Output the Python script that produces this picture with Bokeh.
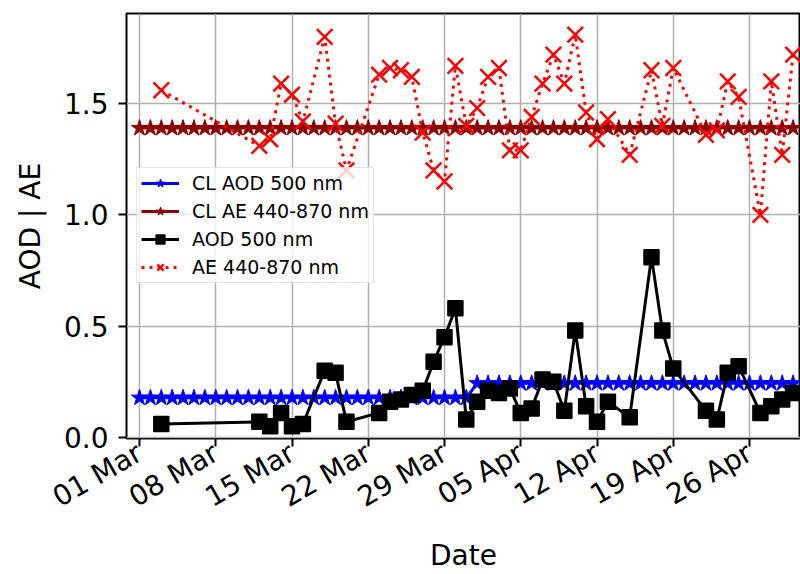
import datetime as dt
import calendar

from bokeh.plotting import figure
from bokeh.models import (ColumnDataSource, Range1d, FixedTicker, DatetimeTickFormatter,
                          PrintfTickFormatter, Legend, LegendItem)
from bokeh.embed import file_html
from bokeh.resources import INLINE

YEAR = 2023

# Observation days (month-day) and values
obs_dates = ["03-03", "03-12", "03-13", "03-14", "03-15", "03-16", "03-18", "03-19", "03-20",
             "03-23", "03-24", "03-25", "03-26", "03-27", "03-28", "03-29", "03-30", "03-31",
             "04-01", "04-02", "04-03", "04-04", "04-05", "04-06", "04-07", "04-08", "04-09",
             "04-10", "04-11", "04-12", "04-13", "04-15", "04-17", "04-18", "04-19", "04-22",
             "04-23", "04-24", "04-25", "04-27", "04-28", "04-29", "04-30"]

aod_500 = [0.06, 0.07, 0.05, 0.11, 0.05, 0.06, 0.30, 0.29, 0.07,
           0.11, 0.16, 0.17, 0.19, 0.21, 0.34, 0.45, 0.58, 0.08,
           0.16, 0.21, 0.20, 0.22, 0.11, 0.13, 0.26, 0.25, 0.12,
           0.48, 0.14, 0.07, 0.16, 0.09, 0.81, 0.48, 0.31, 0.12,
           0.08, 0.29, 0.32, 0.11, 0.14, 0.17, 0.20]

ae_440_870 = [1.56, 1.31, 1.34, 1.59, 1.54, 1.42, 1.80, 1.41, 1.20,
              1.63, 1.66, 1.65, 1.62, 1.37, 1.20, 1.15, 1.67, 1.40,
              1.48, 1.62, 1.66, 1.29, 1.29, 1.44, 1.59, 1.72, 1.59,
              1.81, 1.46, 1.34, 1.43, 1.27, 1.65, 1.40, 1.66, 1.36,
              1.38, 1.60, 1.53, 1.00, 1.60, 1.27, 1.72]

# Monthly climatology
cl_months = [3, 4]
cl_aod_500 = [0.178, 0.243]
cl_ae_440_870 = [1.39, 1.39]

# Tick labels
x_tick_dates = ["03-01", "03-08", "03-15", "03-22", "03-29", "04-05", "04-12", "04-19", "04-26"]
y_ticks = [0.0, 0.5, 1.0, 1.5]


def to_dt(md):
    m, d = md.split("-")
    return dt.datetime(YEAR, int(m), int(d))


obs_dt = [to_dt(s) for s in obs_dates]

cl_dt, cl_aod_daily, cl_ae_daily = [], [], []
for m, va, ve in zip(cl_months, cl_aod_500, cl_ae_440_870):
    for d in range(1, calendar.monthrange(YEAR, m)[1] + 1):
        cl_dt.append(dt.datetime(YEAR, m, d))
        cl_aod_daily.append(va)
        cl_ae_daily.append(ve)

EPOCH = dt.datetime(1970, 1, 1)


def ms(d):
    return (d - EPOCH).total_seconds() * 1000.0


start = to_dt("03-01")
x0 = start - dt.timedelta(days=1.193)
x1 = start + dt.timedelta(days=60.68)

p = figure(width=800, height=574, x_axis_type="datetime", output_backend="svg",
           toolbar_location=None, x_range=Range1d(x0, x1), y_range=Range1d(-0.005, 1.905),
           min_border_left=126, min_border_right=0, min_border_top=13, min_border_bottom=136)

p.background_fill_color = "white"
p.border_fill_color = "white"
p.outline_line_color = "black"
p.outline_line_width = 2

FONT = "DejaVu Sans"

src_cl = ColumnDataSource(dict(date=cl_dt, aod=cl_aod_daily, ae=cl_ae_daily))
src_obs = ColumnDataSource(dict(date=obs_dt, aod=aod_500, ae=ae_440_870))

l1 = p.line("date", "aod", source=src_cl, line_color="blue", line_width=3)
s1 = p.scatter("date", "aod", source=src_cl, marker="star", size=17, color="blue")
l2 = p.line("date", "ae", source=src_cl, line_color="darkred", line_width=3)
s2 = p.scatter("date", "ae", source=src_cl, marker="star", size=17, color="darkred")
l3 = p.line("date", "aod", source=src_obs, line_color="black", line_width=3)
s3 = p.scatter("date", "aod", source=src_obs, marker="square", size=15, color="black", line_width=1.5)
l4 = p.line("date", "ae", source=src_obs, line_color="red", line_width=3, line_dash="3 5")
s4 = p.scatter("date", "ae", source=src_obs, marker="x", size=22, line_color="red", line_width=2.5)

# Axes
p.xaxis.ticker = FixedTicker(ticks=[ms(to_dt(s)) for s in x_tick_dates])
fmt = "%d %b"
p.xaxis.formatter = DatetimeTickFormatter(days=fmt, months=fmt, hours=fmt, years=fmt,
                                          milliseconds=fmt, seconds=fmt, minutes=fmt,
                                          minsec=fmt, hourmin=fmt)
p.xaxis.major_label_orientation = 0.5236
p.yaxis.ticker = FixedTicker(ticks=y_ticks)
p.yaxis.formatter = PrintfTickFormatter(format="%.1f")

for ax in (p.xaxis, p.yaxis):
    ax.axis_line_color = None
    ax.major_tick_line_color = "black"
    ax.major_tick_line_width = 2
    ax.major_tick_out = 8
    ax.major_tick_in = 0
    ax.minor_tick_line_color = None
    ax.major_label_text_font = FONT
    ax.major_label_text_font_size = "28px"
    ax.major_label_text_color = "black"
    ax.axis_label_text_font = FONT
    ax.axis_label_text_font_size = "28px"
    ax.axis_label_text_font_style = "normal"
    ax.axis_label_text_color = "black"

p.xaxis.axis_label = "Date"
p.yaxis.axis_label = "AOD | AE"
p.yaxis.major_label_standoff = 10
p.xaxis.major_label_standoff = 4
p.yaxis.axis_label_standoff = 14
p.xaxis.axis_label_standoff = 8

p.grid.grid_line_color = "#b0b0b0"
p.grid.grid_line_width = 1.5
p.xgrid.ticker = p.xaxis.ticker
p.ygrid.ticker = p.yaxis.ticker

legend = Legend(items=[
    LegendItem(label="CL AOD 500 nm", renderers=[l1, s1]),
    LegendItem(label="CL AE 440-870 nm", renderers=[l2, s2]),
    LegendItem(label="AOD 500 nm", renderers=[l3, s3]),
    LegendItem(label="AE 440-870 nm", renderers=[l4, s4]),
], location=(10, 155))
legend.label_text_font = FONT
legend.label_text_font_size = "19px"
legend.label_text_color = "black"
legend.glyph_width = 38
legend.glyph_height = 22
legend.label_height = 22
legend.label_standoff = 13
legend.spacing = 6
legend.padding = 4
legend.margin = 0
legend.border_line_color = "#cccccc"
legend.border_line_width = 1.5
legend.background_fill_color = "white"
legend.background_fill_alpha = 0.8
p.add_layout(legend)

open("out.html", "w").write(file_html(p, INLINE))
